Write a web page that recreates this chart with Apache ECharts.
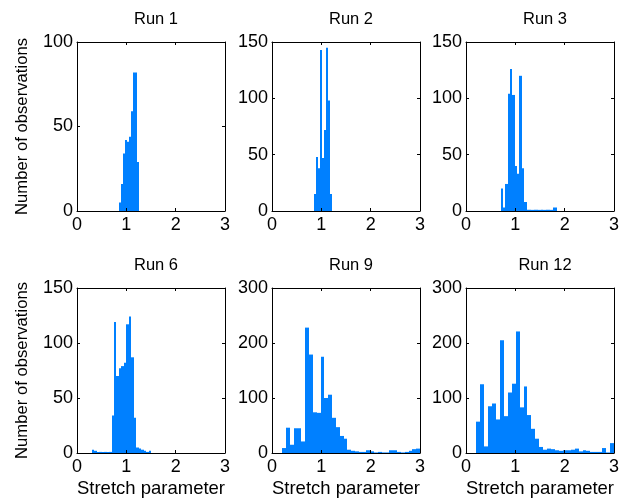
<!DOCTYPE html>
<html>
<head>
<meta charset="utf-8">
<script src="https://cdn.jsdelivr.net/npm/echarts@6/dist/echarts.min.js"></script>
<style>
  html, body { margin: 0; padding: 0; background: #fff; }
  #chart { width: 627px; height: 499px; }
</style>
</head>
<body>
<div id="chart"></div>
<script>
// histogram counts (bin start, bin width, counts per bin)
const runTitles = ['Run 1', 'Run 2', 'Run 3', 'Run 6', 'Run 9', 'Run 12']
const binStarts = [0.86, 0.86, 0.70, 0.30, 0.21, 0.21]
const binWidths = [0.04, 0.04, 0.048, 0.05, 0.0775, 0.0797]

const run1Counts = [5, 16, 34, 42, 41, 44, 59, 82, 82, 29]
const run2Counts = [15, 48, 38, 143, 47, 72, 145, 98, 15]
const run3Counts = [20, 3, 24, 104, 126, 103, 40, 33, 120, 38, 8, 1, 1, 1, 1, 1, 1, 1, 1, 1, 1, 1, 3, 3]
const run6Counts = [3, 2, 1, 1, 1, 1, 1, 1, 34, 119, 70, 77, 79, 82, 117, 124, 87, 32, 5, 4, 3, 2, 1, 2]
const run9Counts = [9, 46, 15, 45, 45, 21, 228, 179, 74, 73, 175, 100, 106, 64, 47, 31, 26, 6,
  4, 3, 2, 2, 5, 3, 1, 2, 1, 1, 5, 5, 2, 1, 2, 4, 7, 8]
const run12Counts = [57, 125, 12, 85, 90, 61, 205, 67, 110, 126, 221, 83, 121, 69, 44, 26, 11, 6,
  8, 7, 5, 4, 5, 5, 6, 8, 3, 5, 4, 2, 2, 2, 9, 1, 18]
const allCounts = [run1Counts, run2Counts, run3Counts, run6Counts, run9Counts, run12Counts]

const xTicks = [0, 1, 2, 3]
const yMax = [100, 150, 150, 150, 300, 300]
const yStep = [50, 50, 50, 50, 100, 100]

const colLeft = [77, 272, 466]
const rowTop = [42, 288]
const boxW = 148
const boxH = 169
const barColor = '#0080ff'
const font = 'Liberation Sans, Arial, sans-serif'

const chart = echarts.init(document.getElementById('chart'))

// one rect per bin, snapped to whole pixels so neighbours don't leave seams
function renderHist(params, api) {
  const a = api.coord([api.value(0), api.value(2)])
  const b = api.coord([api.value(1), 0])
  const x0 = Math.round(a[0]), x1 = Math.round(b[0])
  return {
    type: 'rect',
    shape: { x: x0, y: a[1], width: x1 - x0, height: b[1] - a[1] },
    style: { fill: barColor }
  }
}

const grids = [], xAxes = [], yAxes = [], series = [], titles = []
const tick = { inside: true, length: 3, lineStyle: { color: '#000', width: 1 } }
const line = { show: true, onZero: false, lineStyle: { color: '#000', width: 1 } }

runTitles.forEach((name, i) => {
  const col = i % 3, row = Math.floor(i / 3)
  grids.push({ left: colLeft[col], top: rowTop[row], width: boxW, height: boxH, containLabel: false })
  titles.push({
    text: name, left: colLeft[col] + boxW / 2, top: rowTop[row] - 36, textAlign: 'center',
    textStyle: { fontSize: 16.5, fontWeight: 'normal', color: '#000', fontFamily: font }
  })
  // bottom x axis with labels
  xAxes.push({
    gridIndex: i, type: 'value', min: 0, max: 3, interval: 1, position: 'bottom', z: 5,
    axisLine: line, axisTick: tick, splitLine: { show: false },
    axisLabel: { color: '#000', fontSize: 18, fontFamily: font, margin: 5, formatter: v => xTicks.includes(v) ? String(v) : '' },
    name: row === 1 ? 'Stretch parameter' : '', nameLocation: 'middle', nameGap: 26,
    nameTextStyle: { color: '#000', fontSize: 18.5, fontFamily: font }
  })
  // top x axis: ticks only
  xAxes.push({
    gridIndex: i, type: 'value', min: 0, max: 3, interval: 1, position: 'top', z: 5,
    axisLine: line, axisTick: tick, axisLabel: { show: false }, splitLine: { show: false }
  })
  yAxes.push({
    gridIndex: i, type: 'value', min: 0, max: yMax[i], interval: yStep[i], position: 'left', z: 5,
    axisLine: line, axisTick: tick, splitLine: { show: false },
    axisLabel: { color: '#000', fontSize: 18, fontFamily: font, margin: 4 },
    name: col === 0 ? 'Number of observations' : '', nameLocation: 'middle', nameGap: 46,
    nameTextStyle: { color: '#000', fontSize: 16.7, fontFamily: font }
  })
  yAxes.push({
    gridIndex: i, type: 'value', min: 0, max: yMax[i], interval: yStep[i], position: 'right', z: 5,
    axisLine: line, axisTick: tick, axisLabel: { show: false }, splitLine: { show: false }
  })
  const data = allCounts[i].map((c, k) => [
    binStarts[i] + k * binWidths[i], binStarts[i] + (k + 1) * binWidths[i], c
  ])
  series.push({
    type: 'custom', xAxisIndex: i * 2, yAxisIndex: i * 2, clip: true,
    renderItem: renderHist, data: data, encode: { x: [0, 1], y: 2 }, silent: true
  })
})

chart.setOption({
  animation: false,
  title: titles,
  grid: grids,
  xAxis: xAxes,
  yAxis: yAxes,
  series: series
})
</script>
</body>
</html>
